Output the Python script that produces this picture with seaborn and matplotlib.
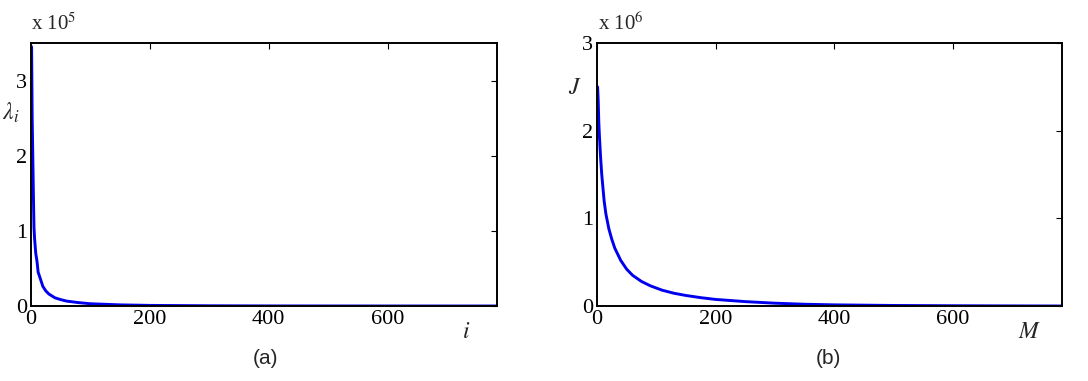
import numpy as np
import pandas as pd
import matplotlib
matplotlib.use("Agg")
import matplotlib.pyplot as plt
import seaborn as sns

# ---- data ----
eig_index = [1, 2, 3, 4, 5, 6, 8, 10, 12, 15, 20, 25, 30, 40, 50, 60, 80, 100,
             150, 200, 300, 400, 500, 600, 700, 784]
eig_value = [3.45e5, 2.5e5, 2.0e5, 1.5e5, 1.05e5, 0.9e5, 0.7e5, 0.6e5, 0.45e5,
             0.38e5, 0.26e5, 0.2e5, 0.16e5, 0.11e5, 0.085e5, 0.065e5, 0.045e5,
             0.03e5, 0.015e5, 0.008e5, 0.003e5, 0.001e5, 0.0005e5, 0.0002e5,
             0.0001e5, 0.0]

m_index = [1, 2, 3, 4, 6, 8, 10, 12, 15, 20, 25, 30, 40, 50, 60, 75, 90, 110,
           130, 150, 175, 200, 250, 300, 350, 400, 500, 600, 700, 784]
j_value = [2.5e6, 2.35e6, 2.1e6, 1.95e6, 1.7e6, 1.5e6, 1.35e6, 1.2e6, 1.05e6,
           0.88e6, 0.76e6, 0.66e6, 0.52e6, 0.42e6, 0.35e6, 0.28e6, 0.23e6,
           0.18e6, 0.145e6, 0.12e6, 0.095e6, 0.075e6, 0.05e6, 0.032e6,
           0.02e6, 0.013e6, 0.006e6, 0.003e6, 0.001e6, 0.0]

xticks = [0, 200, 400, 600]
left_yticks = [0, 1, 2, 3]
right_yticks = [0, 1, 2, 3]

sns.set_style("white")
plt.rcParams['font.family'] = ['Liberation Serif', 'DejaVu Serif']
plt.rcParams['mathtext.fontset'] = 'stix'

W, H = 1088, 381
fig = plt.figure(figsize=(W / 100, H / 100), dpi=100)

def frac(x0, y0, x1, y1):
    return [x0 / W, 1 - y1 / H, (x1 - x0) / W, (y1 - y0) / H]

ax1 = fig.add_axes(frac(31, 43, 497, 306))
ax2 = fig.add_axes(frac(597, 43, 1062, 306))

df1 = pd.DataFrame({"i": eig_index, "v": np.array(eig_value) / 1e5})
df2 = pd.DataFrame({"M": m_index, "v": np.array(j_value) / 1e6})

sns.lineplot(data=df1, x="i", y="v", ax=ax1, color="#0000ee", linewidth=2.1)
sns.lineplot(data=df2, x="M", y="v", ax=ax2, color="#0000ee", linewidth=2.1)

ax1.set_ylim(0, 3.5)
ax2.set_ylim(0, 3)
for ax, yt in ((ax1, left_yticks), (ax2, right_yticks)):
    ax.set_xlim(0, 784)
    ax.set_xticks(xticks)
    ax.set_yticks(yt)
    ax.set_xlabel("")
    ax.set_ylabel("")
    ax.tick_params(direction="in", length=4, width=0.8, top=True, right=True,
                   labelsize=16, colors="black", pad=3)
    for s in ax.spines.values():
        s.set_linewidth(1.4)
        s.set_color("black")
        s.set_visible(True)

# axis labels placed like the reference
fig.text(2 / W, 1 - 113 / H, r"$\lambda_i$", fontsize=17, ha="left", va="center")
fig.text(466 / W, 1 - 332 / H, r"$i$", fontsize=17, ha="center", va="center")
fig.text(575 / W, 1 - 88 / H, r"$J$", fontsize=17, ha="center", va="center")
fig.text(1030 / W, 1 - 332 / H, r"$M$", fontsize=17, ha="center", va="center")

# multipliers
fig.text(31 / W, 1 - 24 / H, r"x 10$^{5}$", fontsize=15, ha="left", va="center")
fig.text(598 / W, 1 - 24 / H, r"x 10$^{6}$", fontsize=15, ha="left", va="center")

# panel captions
fig.text(265 / W, 1 - 358 / H, "(a)", fontsize=15, ha="center", va="center",
         family="Liberation Sans")
fig.text(828 / W, 1 - 358 / H, "(b)", fontsize=15, ha="center", va="center",
         family="Liberation Sans")

fig.savefig("out.png", dpi=100)
